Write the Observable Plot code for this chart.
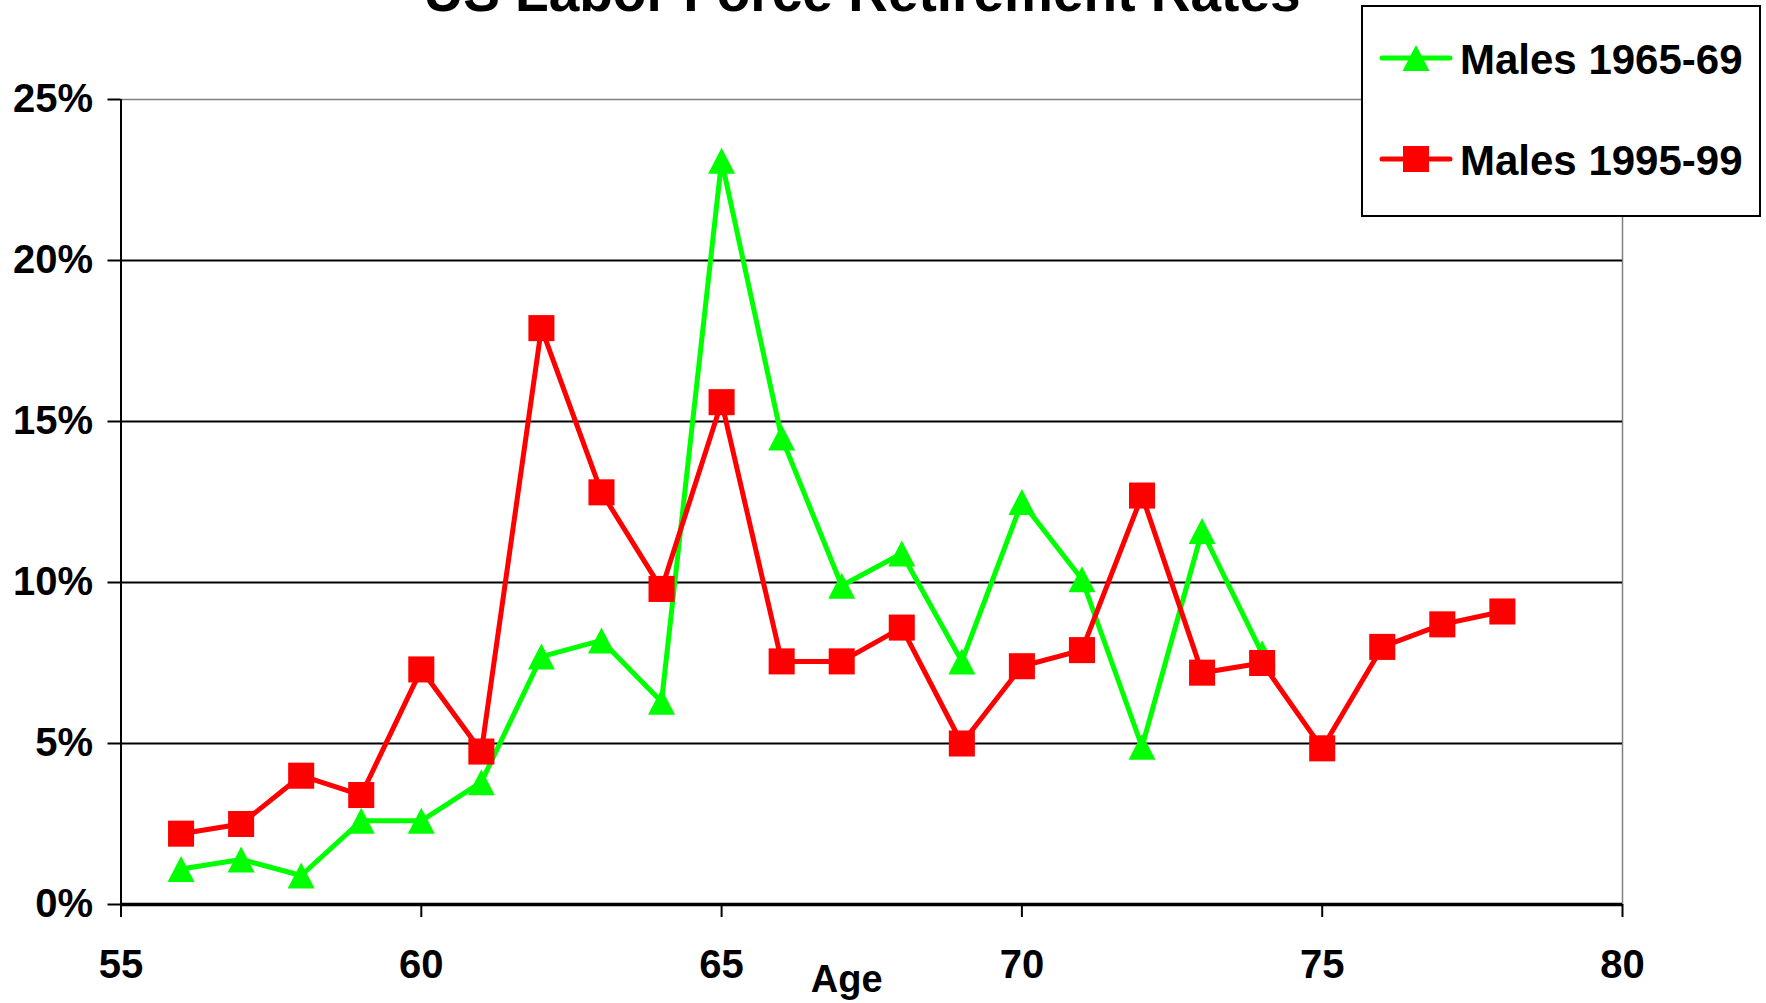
<!DOCTYPE html>
<html>
<head>
<meta charset="utf-8">
<script src="https://cdn.jsdelivr.net/npm/d3@7"></script>
<script src="https://cdn.jsdelivr.net/npm/@observablehq/plot@0.6"></script>
<style>
  html, body { margin: 0; padding: 0; background: white; }
  #wrap { position: relative; width: 1766px; height: 1003px; overflow: hidden; }
  #overlay { position: absolute; left: 0; top: 0; pointer-events: none; }
</style>
</head>
<body>
<div id="wrap"></div>
<script>
// ---- data (percent) ----
const ages1965 = [56, 57, 58, 59, 60, 61, 62, 63, 64, 65, 66, 67, 68, 69, 70, 71, 72, 73, 74];
const males1965 = [1.1, 1.4, 0.9, 2.6, 2.6, 3.8, 7.7, 8.2, 6.3, 23.1, 14.5, 9.9, 10.9, 7.55, 12.5, 10.1, 4.9, 11.6, 7.8];
const ages1995 = [56, 57, 58, 59, 60, 61, 62, 63, 64, 65, 66, 67, 68, 69, 70, 71, 72, 73, 74, 75, 76, 77, 78];
const males1995 = [2.2, 2.5, 4.0, 3.4, 7.3, 4.75, 17.9, 12.8, 9.8, 15.6, 7.55, 7.55, 8.6, 5.0, 7.4, 7.9, 12.7, 7.2, 7.5, 4.85, 8.0, 8.7, 9.1];
const seriesNames = ["Males 1965-69", "Males 1995-99"];
const xTicks = [55, 60, 65, 70, 75, 80];
const yTicks = [0, 5, 10, 15, 20, 25];
const gridLines = [5, 10, 15, 20];
const titleText = "US Labor Force Retirement Rates";
const xLabel = "Age";

const s1965 = ages1965.map((a, i) => ({age: a, value: males1965[i]}));
const s1995 = ages1995.map((a, i) => ({age: a, value: males1995[i]}));

const GREEN = "#00ff00", RED = "#ff0000";
const FONT = "'Liberation Sans', Arial, Helvetica, sans-serif";

// triangle centred on its bounding box (like Excel markers)
const tri = {
  draw(ctx, size) {
    const r = Math.sqrt(size / Math.PI);
    ctx.moveTo(0, -1.3 * r);
    ctx.lineTo(1.35 * r, 1.3 * r);
    ctx.lineTo(-1.35 * r, 1.3 * r);
    ctx.closePath();
  }
};

const chart = Plot.plot({
  width: 1766,
  height: 1003,
  marginLeft: 120.5,
  marginRight: 144,
  marginTop: 99,
  marginBottom: 99,
  x: {domain: [55, 80]},
  y: {domain: [0, 25]},
  style: {fontFamily: FONT, fontWeight: "bold", fontSize: "40px", color: "black", background: "white"},
  marks: [
    Plot.frame({stroke: "#808080", strokeWidth: 1.5}),
    Plot.ruleY(gridLines, {stroke: "black", strokeWidth: 2}),
    Plot.axisY({ticks: yTicks, tickFormat: d => d + "%", tickSize: 13, tickPadding: 15,
                strokeWidth: 2, fontSize: 40, fontWeight: "bold", label: null}),
    Plot.axisX({ticks: xTicks, tickFormat: d => String(d), tickSize: 13, tickPadding: 32,
                strokeWidth: 2, fontSize: 40, fontWeight: "bold", label: null}),
    Plot.text([xLabel], {frameAnchor: "bottom", dy: 87, dx: -25, fontSize: 38, fontWeight: "bold"}),
    Plot.ruleX([55], {stroke: "black", strokeWidth: 2}),
    Plot.ruleY([0], {stroke: "black", strokeWidth: 3.5}),
    Plot.line(s1965, {x: "age", y: "value", stroke: GREEN, strokeWidth: 5}),
    Plot.dot(s1965, {x: "age", y: "value", symbol: tri, r: 10, fill: GREEN, stroke: "none"}),
    Plot.line(s1995, {x: "age", y: "value", stroke: RED, strokeWidth: 5}),
    Plot.dot(s1995, {x: "age", y: "value", symbol: "square", r: 14.7, fill: RED, stroke: "none"})
  ]
});

const wrap = document.getElementById("wrap");
wrap.appendChild(chart);

// ---- title + legend overlay ----
const ov = d3.select(wrap).append("svg")
  .attr("id", "overlay").attr("width", 1766).attr("height", 1003)
  .style("font-family", FONT).style("font-weight", "bold");

ov.append("text").attr("x", 862).attr("y", 11).attr("text-anchor", "middle")
  .attr("font-size", 55).attr("fill", "black").text(titleText);

const lg = ov.append("g").attr("transform", "translate(1362,6)");
lg.append("rect").attr("x", 0).attr("y", 0).attr("width", 398).attr("height", 210)
  .attr("fill", "white").attr("stroke", "black").attr("stroke-width", 2);
const items = [
  {name: seriesNames[0], color: GREEN, sym: d3.symbol(tri, 10 * 10 * Math.PI)()},
  {name: seriesNames[1], color: RED, sym: d3.symbol(d3.symbolSquare, 14.7 * 14.7 * Math.PI)()}
];
const rowY = [52, 153];
items.forEach((it, i) => {
  const y = rowY[i];
  lg.append("line").attr("x1", 20).attr("x2", 88).attr("y1", y).attr("y2", y)
    .attr("stroke", it.color).attr("stroke-width", 5).attr("stroke-linecap", "round");
  lg.append("path").attr("d", it.sym).attr("transform", `translate(54,${y})`).attr("fill", it.color);
  lg.append("text").attr("x", 98).attr("y", y + 16).attr("font-size", 42).attr("fill", "black").text(it.name);
});
</script>
</body>
</html>
